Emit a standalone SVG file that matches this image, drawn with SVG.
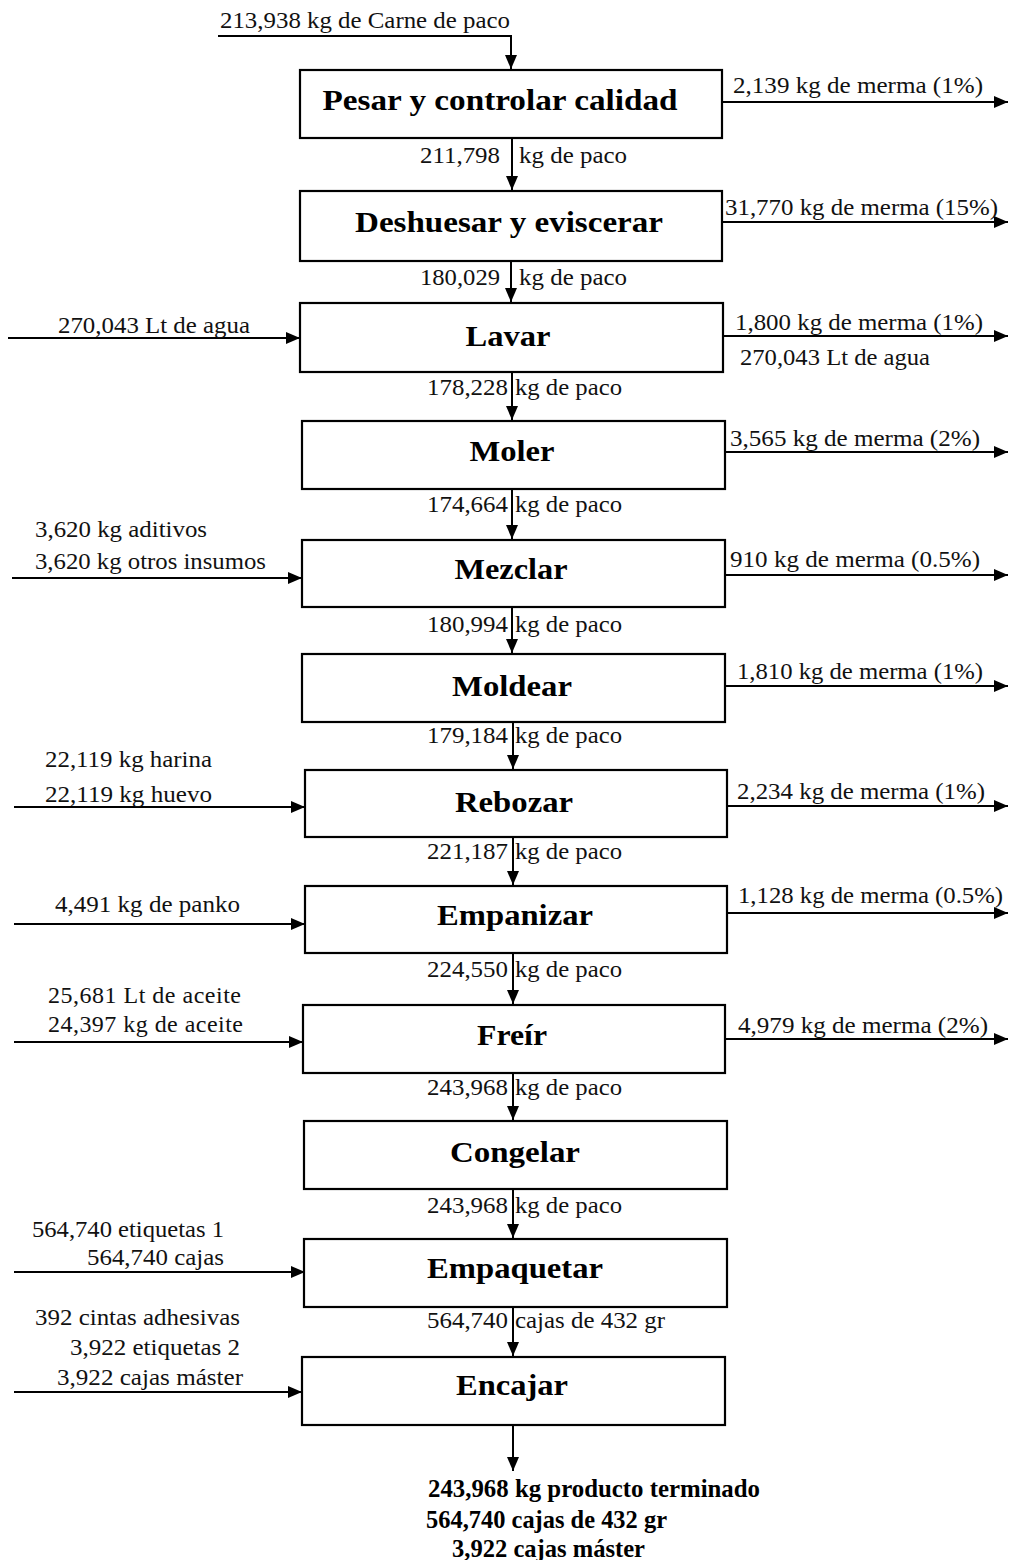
<svg xmlns="http://www.w3.org/2000/svg" width="1009" height="1560" viewBox="0 0 1009 1560">
  <style>
    .box { fill: #ffffff; stroke: #000000; stroke-width: 2.2; }
    .title { font-family: "Liberation Serif", "Times New Roman", serif; font-size: 30px; font-weight: bold; text-anchor: middle; fill: #000000; }
    .lbl { font-family: "Liberation Serif", "Times New Roman", serif; font-size: 24px; fill: #111111; }
    .end { text-anchor: end; }
    .out { font-family: "Liberation Serif", "Times New Roman", serif; font-size: 25px; font-weight: bold; fill: #000000; }
    .flow { fill: none; stroke: #000000; stroke-width: 2; marker-end: url(#arrow); }
  </style>
  <defs>
    <marker id="arrow" viewBox="0 0 14 12" refX="14" refY="6" markerWidth="14" markerHeight="12" markerUnits="userSpaceOnUse" orient="auto">
      <path d="M0,0 L14,6 L0,12 z" fill="#000000"/>
    </marker>
  </defs>
  <rect width="1009" height="1560" fill="#ffffff"/>

  <!-- connectors -->
  <g id="connectors">
    <!-- raw material feed -->
    <polyline class="flow" points="218,36 511,36 511,69"/>
    <!-- main line -->
    <line class="flow" x1="512" y1="138" x2="512" y2="190"/>
    <line class="flow" x1="511" y1="261" x2="511" y2="302"/>
    <line class="flow" x1="512" y1="372" x2="512" y2="420"/>
    <line class="flow" x1="512" y1="489" x2="512" y2="539"/>
    <line class="flow" x1="512" y1="607" x2="512" y2="653"/>
    <line class="flow" x1="513" y1="722" x2="513" y2="769"/>
    <line class="flow" x1="513" y1="837" x2="513" y2="885"/>
    <line class="flow" x1="513" y1="953" x2="513" y2="1004"/>
    <line class="flow" x1="513" y1="1073" x2="513" y2="1120"/>
    <line class="flow" x1="513" y1="1189" x2="513" y2="1238"/>
    <line class="flow" x1="513" y1="1307" x2="513" y2="1356"/>
    <line class="flow" x1="513" y1="1425" x2="513" y2="1471"/>
    <!-- inputs from the left -->
    <line class="flow" x1="8" y1="338" x2="300" y2="338"/>
    <line class="flow" x1="12" y1="578" x2="302" y2="578"/>
    <line class="flow" x1="14" y1="807" x2="305" y2="807"/>
    <line class="flow" x1="14" y1="924" x2="305" y2="924"/>
    <line class="flow" x1="14" y1="1042" x2="303" y2="1042"/>
    <line class="flow" x1="14" y1="1272" x2="305" y2="1272"/>
    <line class="flow" x1="14" y1="1392" x2="302" y2="1392"/>
    <!-- losses to the right -->
    <line class="flow" x1="722" y1="102" x2="1008" y2="102"/>
    <line class="flow" x1="722" y1="222" x2="1008" y2="222"/>
    <line class="flow" x1="723" y1="336" x2="1008" y2="336"/>
    <line class="flow" x1="725" y1="452" x2="1008" y2="452"/>
    <line class="flow" x1="725" y1="575" x2="1008" y2="575"/>
    <line class="flow" x1="725" y1="686" x2="1008" y2="686"/>
    <line class="flow" x1="727" y1="806" x2="1008" y2="806"/>
    <line class="flow" x1="727" y1="913" x2="1008" y2="913"/>
    <line class="flow" x1="725" y1="1039" x2="1008" y2="1039"/>
  </g>

  <!-- process steps -->
  <g id="pesar">
    <rect class="box" x="300" y="70" width="422" height="68"/>
    <text class="title" x="500" y="110" textLength="355" lengthAdjust="spacingAndGlyphs">Pesar y controlar calidad</text>
  </g>
  <g id="deshuesar">
    <rect class="box" x="300" y="191" width="422" height="70"/>
    <text class="title" x="509" y="232" textLength="308" lengthAdjust="spacingAndGlyphs">Deshuesar y eviscerar</text>
  </g>
  <g id="lavar">
    <rect class="box" x="300" y="303" width="423" height="69"/>
    <text class="title" x="508" y="346" textLength="85" lengthAdjust="spacingAndGlyphs">Lavar</text>
  </g>
  <g id="moler">
    <rect class="box" x="302" y="421" width="423" height="68"/>
    <text class="title" x="512" y="461" textLength="85" lengthAdjust="spacingAndGlyphs">Moler</text>
  </g>
  <g id="mezclar">
    <rect class="box" x="302" y="540" width="423" height="67"/>
    <text class="title" x="511" y="579" textLength="113" lengthAdjust="spacingAndGlyphs">Mezclar</text>
  </g>
  <g id="moldear">
    <rect class="box" x="302" y="654" width="423" height="68"/>
    <text class="title" x="512" y="696" textLength="120" lengthAdjust="spacingAndGlyphs">Moldear</text>
  </g>
  <g id="rebozar">
    <rect class="box" x="305" y="770" width="422" height="67"/>
    <text class="title" x="514" y="812" textLength="118" lengthAdjust="spacingAndGlyphs">Rebozar</text>
  </g>
  <g id="empanizar">
    <rect class="box" x="305" y="886" width="422" height="67"/>
    <text class="title" x="515" y="925" textLength="156" lengthAdjust="spacingAndGlyphs">Empanizar</text>
  </g>
  <g id="freir">
    <rect class="box" x="303" y="1005" width="422" height="68"/>
    <text class="title" x="512" y="1045" textLength="70" lengthAdjust="spacingAndGlyphs">Freír</text>
  </g>
  <g id="congelar">
    <rect class="box" x="304" y="1121" width="423" height="68"/>
    <text class="title" x="515" y="1162" textLength="130" lengthAdjust="spacingAndGlyphs">Congelar</text>
  </g>
  <g id="empaquetar">
    <rect class="box" x="304" y="1239" width="423" height="68"/>
    <text class="title" x="515" y="1278" textLength="176" lengthAdjust="spacingAndGlyphs">Empaquetar</text>
  </g>
  <g id="encajar">
    <rect class="box" x="302" y="1357" width="423" height="68"/>
    <text class="title" x="512" y="1395" textLength="112" lengthAdjust="spacingAndGlyphs">Encajar</text>
  </g>

  <!-- quantities passed down the line -->
  <g id="flow-labels">
    <text class="lbl" x="220" y="28" textLength="290" lengthAdjust="spacingAndGlyphs">213,938 kg de Carne de paco</text>
    <text class="lbl end" x="500" y="163" textLength="80" lengthAdjust="spacingAndGlyphs">211,798</text>
    <text class="lbl" x="519" y="163" textLength="108" lengthAdjust="spacingAndGlyphs">kg de paco</text>
    <text class="lbl end" x="500" y="285" textLength="80" lengthAdjust="spacingAndGlyphs">180,029</text>
    <text class="lbl" x="519" y="285" textLength="108" lengthAdjust="spacingAndGlyphs">kg de paco</text>
    <text class="lbl end" x="508" y="395" textLength="81" lengthAdjust="spacingAndGlyphs">178,228</text>
    <text class="lbl" x="515" y="395" textLength="107" lengthAdjust="spacingAndGlyphs">kg de paco</text>
    <text class="lbl end" x="508" y="512" textLength="81" lengthAdjust="spacingAndGlyphs">174,664</text>
    <text class="lbl" x="515" y="512" textLength="107" lengthAdjust="spacingAndGlyphs">kg de paco</text>
    <text class="lbl end" x="508" y="632" textLength="81" lengthAdjust="spacingAndGlyphs">180,994</text>
    <text class="lbl" x="515" y="632" textLength="107" lengthAdjust="spacingAndGlyphs">kg de paco</text>
    <text class="lbl end" x="508" y="743" textLength="81" lengthAdjust="spacingAndGlyphs">179,184</text>
    <text class="lbl" x="515" y="743" textLength="107" lengthAdjust="spacingAndGlyphs">kg de paco</text>
    <text class="lbl end" x="508" y="859" textLength="81" lengthAdjust="spacingAndGlyphs">221,187</text>
    <text class="lbl" x="515" y="859" textLength="107" lengthAdjust="spacingAndGlyphs">kg de paco</text>
    <text class="lbl end" x="508" y="977" textLength="81" lengthAdjust="spacingAndGlyphs">224,550</text>
    <text class="lbl" x="515" y="977" textLength="107" lengthAdjust="spacingAndGlyphs">kg de paco</text>
    <text class="lbl end" x="508" y="1095" textLength="81" lengthAdjust="spacingAndGlyphs">243,968</text>
    <text class="lbl" x="515" y="1095" textLength="107" lengthAdjust="spacingAndGlyphs">kg de paco</text>
    <text class="lbl end" x="508" y="1213" textLength="81" lengthAdjust="spacingAndGlyphs">243,968</text>
    <text class="lbl" x="515" y="1213" textLength="107" lengthAdjust="spacingAndGlyphs">kg de paco</text>
    <text class="lbl end" x="508" y="1328" textLength="81" lengthAdjust="spacingAndGlyphs">564,740</text>
    <text class="lbl" x="515" y="1328" textLength="150" lengthAdjust="spacingAndGlyphs">cajas de 432 gr</text>
  </g>

  <!-- inputs -->
  <g id="input-labels">
    <text class="lbl" x="58" y="333" textLength="192" lengthAdjust="spacingAndGlyphs">270,043 Lt de agua</text>
    <text class="lbl" x="35" y="537" textLength="172" lengthAdjust="spacingAndGlyphs">3,620 kg aditivos</text>
    <text class="lbl" x="35" y="569" textLength="231" lengthAdjust="spacingAndGlyphs">3,620 kg otros insumos</text>
    <text class="lbl" x="45" y="767" textLength="167" lengthAdjust="spacingAndGlyphs">22,119 kg harina</text>
    <text class="lbl" x="45" y="802" textLength="167" lengthAdjust="spacingAndGlyphs">22,119 kg huevo</text>
    <text class="lbl" x="55" y="912" textLength="185" lengthAdjust="spacingAndGlyphs">4,491 kg de panko</text>
    <text class="lbl" x="48" y="1003" textLength="193" lengthAdjust="spacing">25,681 Lt de aceite</text>
    <text class="lbl" x="48" y="1032" textLength="195" lengthAdjust="spacing">24,397 kg de aceite</text>
    <text class="lbl" x="32" y="1237" textLength="192" lengthAdjust="spacingAndGlyphs">564,740 etiquetas 1</text>
    <text class="lbl" x="87" y="1265" textLength="137" lengthAdjust="spacingAndGlyphs">564,740 cajas</text>
    <text class="lbl" x="35" y="1325" textLength="205" lengthAdjust="spacingAndGlyphs">392 cintas adhesivas</text>
    <text class="lbl" x="70" y="1355" textLength="170" lengthAdjust="spacingAndGlyphs">3,922 etiquetas 2</text>
    <text class="lbl" x="57" y="1385" textLength="186" lengthAdjust="spacingAndGlyphs">3,922 cajas máster</text>
  </g>

  <!-- losses -->
  <g id="loss-labels">
    <text class="lbl" x="733" y="93" textLength="250" lengthAdjust="spacingAndGlyphs">2,139 kg de merma (1%)</text>
    <text class="lbl" x="725" y="215" textLength="273" lengthAdjust="spacingAndGlyphs">31,770 kg de merma (15%)</text>
    <text class="lbl" x="735" y="330" textLength="248" lengthAdjust="spacingAndGlyphs">1,800 kg de merma (1%)</text>
    <text class="lbl" x="740" y="365" textLength="190" lengthAdjust="spacingAndGlyphs">270,043 Lt de agua</text>
    <text class="lbl" x="730" y="446" textLength="250" lengthAdjust="spacingAndGlyphs">3,565 kg de merma (2%)</text>
    <text class="lbl" x="730" y="567" textLength="250" lengthAdjust="spacingAndGlyphs">910 kg de merma (0.5%)</text>
    <text class="lbl" x="737" y="679" textLength="246" lengthAdjust="spacingAndGlyphs">1,810 kg de merma (1%)</text>
    <text class="lbl" x="737" y="799" textLength="248" lengthAdjust="spacingAndGlyphs">2,234 kg de merma (1%)</text>
    <text class="lbl" x="738" y="903" textLength="265" lengthAdjust="spacingAndGlyphs">1,128 kg de merma (0.5%)</text>
    <text class="lbl" x="738" y="1033" textLength="250" lengthAdjust="spacingAndGlyphs">4,979 kg de merma (2%)</text>
  </g>

  <!-- final product -->
  <g id="producto">
    <text class="out" x="428" y="1497" textLength="332" lengthAdjust="spacingAndGlyphs">243,968 kg producto terminado</text>
    <text class="out" x="426" y="1528" textLength="241" lengthAdjust="spacingAndGlyphs">564,740 cajas de 432 gr</text>
    <text class="out" x="452" y="1557" textLength="193" lengthAdjust="spacingAndGlyphs">3,922 cajas máster</text>
  </g>
</svg>
